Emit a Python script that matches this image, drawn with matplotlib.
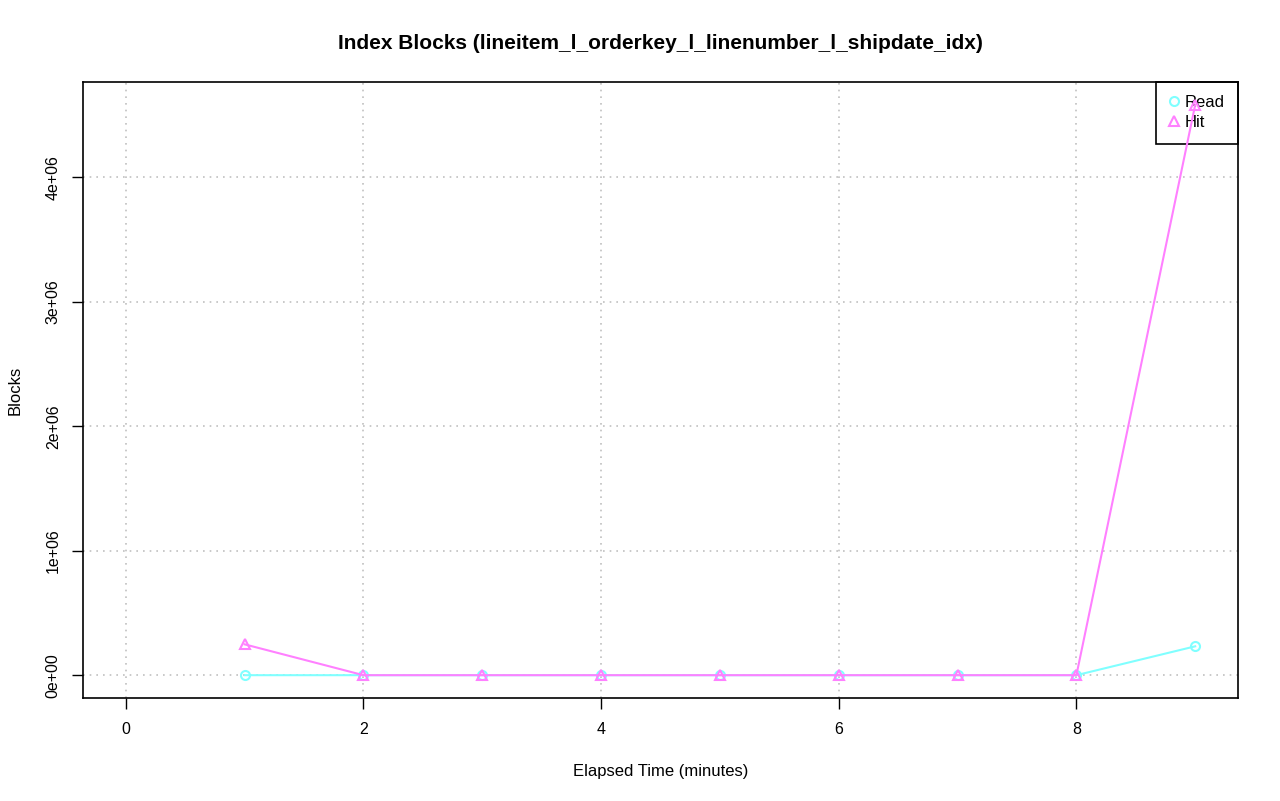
import numpy as np
import matplotlib
matplotlib.use('Agg')
from matplotlib import pyplot as plt

plt.rcParams['font.family'] = ['Liberation Sans', 'DejaVu Sans']

minutes = [1, 2, 3, 4, 5, 6, 7, 8, 9]
read_blocks = [0, 0, 0, 0, 0, 0, 0, 0, 232000]
hit_blocks = [248000, 0, 0, 0, 0, 0, 0, 0, 4584000]
x_ticks = [0, 2, 4, 6, 8]
y_ticks = [0, 1e6, 2e6, 3e6, 4e6]
y_labels = ['0e+00', '1e+06', '2e+06', '3e+06', '4e+06']

read_col = '#80ffff'
hit_col = '#ff80ff'

fig = plt.figure(figsize=(12.8, 8.01), dpi=100)
ax = fig.add_axes([83/1280, 1 - 698/801, (1238 - 83)/1280, (698 - 82)/801])

ax.plot(minutes, read_blocks, color=read_col, lw=1.5, marker='o', ms=6.5,
        mfc='none', mew=1.5, label='Read', zorder=3)
ax.plot(minutes, hit_blocks, color=hit_col, lw=1.5, marker='^', ms=7.5,
        mfc='none', mew=1.5, label='Hit', zorder=3)

ymax = max(max(read_blocks), max(hit_blocks))
ax.set_xlim(-0.36, 9.36)
ax.set_ylim(-0.04 * ymax, 1.04 * ymax)
ax.set_xticks(x_ticks)
ax.set_yticks(y_ticks)
ax.set_yticklabels(y_labels, rotation=90, va='center')
ax.grid(True, color='#c0c0c0', linestyle=(0, (1, 3)), lw=1.2)
ax.set_axisbelow(True)
ax.tick_params(direction='out', length=8, width=1, labelsize=11.5)
ax.tick_params(axis='x', pad=9)
ax.tick_params(axis='y', pad=8)
for s in ax.spines.values():
    s.set_linewidth(1.2)

ax.set_title('Index Blocks (lineitem_l_orderkey_l_linenumber_l_shipdate_idx)',
             fontsize=15, fontweight='bold', pad=24)
ax.set_xlabel('Elapsed Time (minutes)', fontsize=12, labelpad=19.5)
ax.set_ylabel('Blocks', fontsize=12, labelpad=17)

leg = ax.legend(loc='upper right', fancybox=False, framealpha=1,
                edgecolor='black', borderaxespad=0, fontsize=12,
                handlelength=0.6, handletextpad=0.35, borderpad=0.8,
                labelspacing=0.3)
leg.get_frame().set_linewidth(1.2)
leg.set_zorder(2)
for h in leg.legend_handles:
    h.set_linestyle('none')

fig.savefig('out.png', dpi=100)
